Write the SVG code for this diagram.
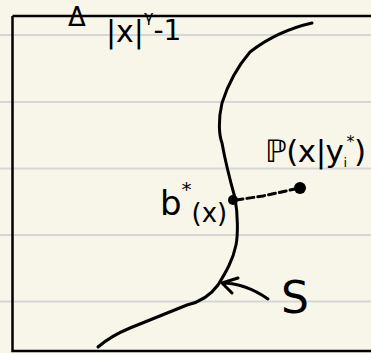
<svg xmlns="http://www.w3.org/2000/svg" width="371" height="353" viewBox="0 0 371 353">
<defs>
<style>
.rule{stroke:#d6d6d6;stroke-width:2;fill:none}
.ink{stroke:#000;stroke-width:3;fill:none;stroke-linecap:round;stroke-linejoin:round}
.frame{stroke:#000;stroke-width:2.5;fill:none}
.hand{font-family:"DejaVu Sans","Liberation Sans",sans-serif;fill:#000}
</style>
</defs>
<rect width="371" height="353" fill="#f8f6e8"/>
<g id="rules">
<line class="rule" x1="0" y1="35" x2="371" y2="35"/>
<line class="rule" x1="0" y1="102" x2="371" y2="102"/>
<line class="rule" x1="0" y1="168.5" x2="371" y2="168.5"/>
<line class="rule" x1="0" y1="235" x2="371" y2="235"/>
<line class="rule" x1="0" y1="301.5" x2="371" y2="301.5"/>
</g>
<g id="frame">
<path class="frame" d="M12.5 16 H371 M12.5 16 V351 H371"/>
</g>
<g id="title">
<text class="hand" x="68" y="26" font-size="26">Δ</text>
<text class="hand" x="106" y="42" font-size="30">|x|<tspan font-size="16" dy="-20">γ</tspan><tspan font-size="28" dy="18">-1</tspan></text>
</g>
<g id="curve-S">
<path class="ink" d="M312 23 C290 28 268 38 250 52 C238 66 228 84 222 103 C218 120 219 135 222 143 C225 160 230 180 235 198 C238 215 238 235 236 245 C233 260 226 272 218 285 C210 296 200 302 187 305 C170 312 150 320 130 328 C118 333 106 340 98 347"/>
</g>
<g id="S-label">
<path class="ink" d="M268 299 C255 290 240 283 222 283 M222 283 L238 278 M222 283 L232 293"/>
<text class="hand" x="281" y="313" font-size="44">S</text>
</g>
<g id="b-star">
<circle cx="233" cy="200" r="5" fill="#000"/>
<text class="hand" x="160" y="215" font-size="34">b<tspan font-size="20" dy="-19">*</tspan><tspan font-size="26" dy="26">(x)</tspan></text>
</g>
<g id="P-point">
<circle cx="300" cy="188" r="6" fill="#000"/>
<text class="hand" x="265" y="162" font-size="31" letter-spacing="-0.5">ℙ(x|y<tspan font-size="13" dy="5">i</tspan><tspan font-size="16" dy="-20">*</tspan><tspan dy="15">)</tspan></text>
</g>
<g id="connectors">
<path class="ink" stroke-width="2" stroke-dasharray="7 4" d="M236 200 L263 196 L295 189"/>
</g>
</svg>
